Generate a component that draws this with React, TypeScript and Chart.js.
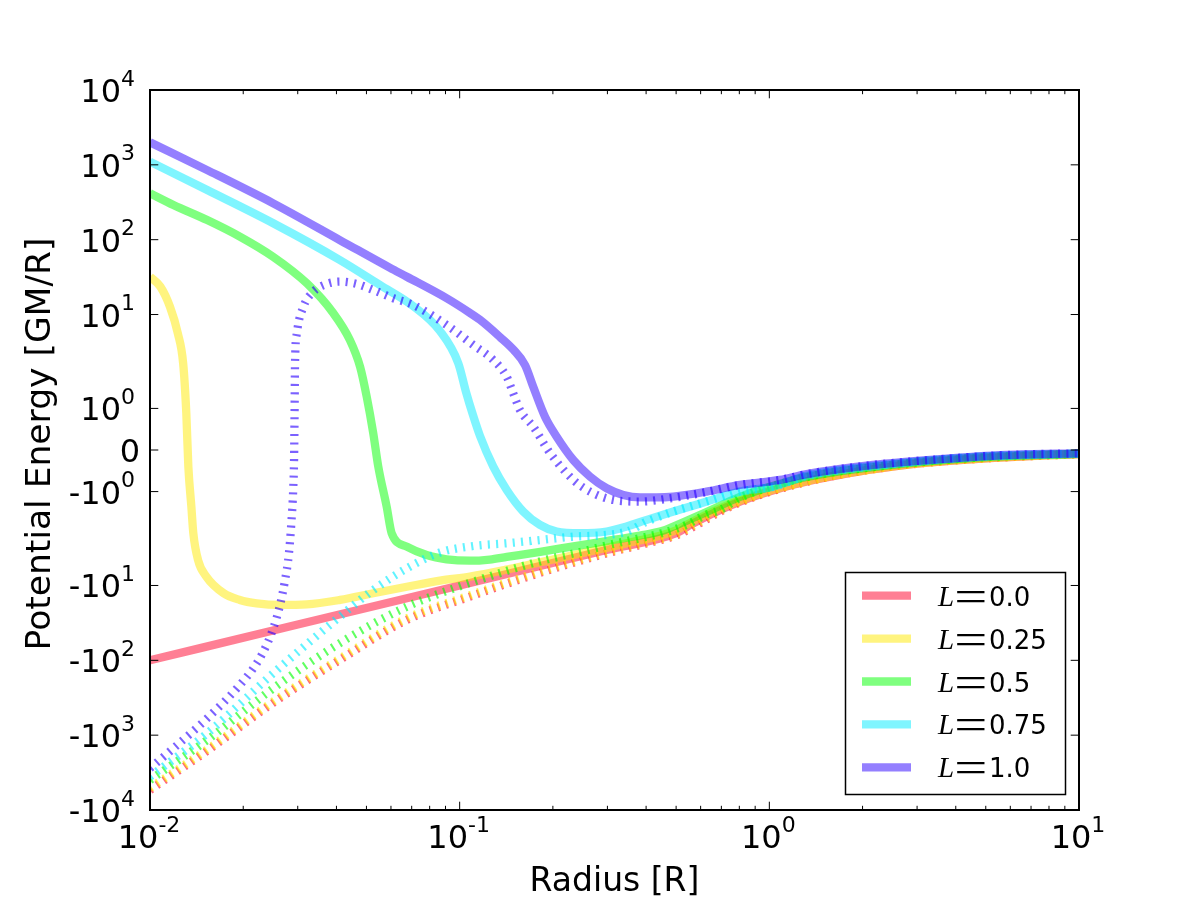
import React, { useEffect, useRef } from 'react';
import { Chart, Scale, registerables } from 'chart.js';

Chart.register(...registerables);

// ---- symmetric log transform (base 10, linthresh 2, linscale 1) ----
const LINTHRESH = 2;
const LINSCALE_ADJ = 1 / (1 - 1 / 10);
function symlog(v: number): number {
  const a = Math.abs(v);
  if (a <= LINTHRESH) return v * LINSCALE_ADJ;
  return Math.sign(v) * LINTHRESH * (LINSCALE_ADJ + Math.log10(a / LINTHRESH));
}
function symexp(t: number): number {
  const a = Math.abs(t);
  if (a <= LINTHRESH * LINSCALE_ADJ) return t / LINSCALE_ADJ;
  return Math.sign(t) * LINTHRESH * Math.pow(10, a / LINTHRESH - LINSCALE_ADJ);
}

// ---- axis ticks ----
const X_MAJOR = [0.01, 0.1, 1, 10];
const X_MAJOR_EXP = ['-2', '-1', '0', '1'];
const Y_TICKS = [1e4, 1e3, 100, 10, 1, 0, -1, -10, -100, -1e3, -1e4];

// ---- radius grids and potential values ----
// L = 0.0
const R_L00 = [0.01, 0.03, 0.1, 0.3, 0.5, 0.55, 0.6, 0.7, 0.8, 0.9, 1, 1.2, 1.5, 2, 2.5, 3, 4, 5, 6, 8, 10];
const E_L00 = [-100, -33.3, -10, -3.33, -2, -1.82, -1.67, -1.43, -1.25, -1.11, -1, -0.83, -0.67, -0.5, -0.4, -0.33, -0.25, -0.2, -0.17, -0.125, -0.1];
const R_L00_DOT = [0.01, 0.0153, 0.025, 0.041, 0.0675, 0.108, 0.142, 0.2, 0.3, 0.4, 0.5, 0.6, 0.7, 0.8, 1, 1.5, 2, 3, 5, 10];
const E_L00_DOT = [-5400, -1620, -370, -99, -28.9, -14.1, -9.5, -6.0, -3.7, -2.75, -2.15, -1.75, -1.47, -1.27, -1.01, -0.67, -0.5, -0.33, -0.2, -0.1];

// L = 0.25
const R_L25 = [0.01, 0.0108, 0.0116, 0.0123, 0.0128, 0.0131, 0.0133, 0.0136, 0.0138, 0.0143, 0.0152, 0.0173, 0.0195, 0.0221, 0.0263, 0.0321, 0.0411, 0.0526, 0.0675, 0.0864, 0.108, 0.14, 0.18, 0.23, 0.3, 0.38, 0.45, 0.5, 0.6, 0.7, 0.8, 1, 1.5, 2, 3, 5, 10];
const E_L25 = [32, 23.6, 12.7, 5.6, 2.2, 0.88, -0.4, -1.36, -2.0, -4.6, -7.6, -12.7, -15.6, -17.3, -18.2, -17.9, -15.6, -12.7, -10.4, -8.6, -7.6, -6.2, -4.95, -3.98, -3.12, -2.5, -2.13, -1.93, -1.62, -1.39, -1.22, -0.98, -0.66, -0.5, -0.33, -0.2, -0.1];
const R_L25_DOT = [0.01, 0.0153, 0.025, 0.041, 0.0675, 0.108, 0.142, 0.2, 0.3, 0.4, 0.5, 0.6, 0.7, 0.8, 1, 1.5, 2, 3, 5, 10];
const E_L25_DOT = [-5100, -1550, -355, -95, -27.5, -13.5, -9.1, -5.8, -3.6, -2.68, -2.1, -1.72, -1.45, -1.26, -1.0, -0.67, -0.5, -0.33, -0.2, -0.1];

// L = 0.5
const R_L50 = [0.01, 0.0119, 0.0153, 0.0195, 0.025, 0.0321, 0.0391, 0.0442, 0.0477, 0.0501, 0.0526, 0.0546, 0.0581, 0.0603, 0.0675, 0.0782, 0.0908, 0.108, 0.125, 0.142, 0.182, 0.233, 0.298, 0.382, 0.45, 0.49, 0.627, 0.804, 1.03, 1.32, 2.16, 4.56, 10];
const E_L50 = [417, 291, 183, 110, 59, 26.1, 10.4, 4.57, 2.0, 1.28, 0.4, -0.4, -1.36, -2.0, -3.03, -3.92, -4.47, -4.67, -4.5, -4.15, -3.55, -3.0, -2.55, -2.15, -1.95, -1.84, -1.49, -1.13, -0.86, -0.65, -0.41, -0.19, -0.09];
const R_L50_DOT = [0.01, 0.0153, 0.025, 0.041, 0.0675, 0.0954, 0.122, 0.16, 0.2, 0.25, 0.3, 0.38, 0.45, 0.54, 0.627, 0.69, 0.804, 1.03, 1.32, 2.16, 4.56, 10];
const E_L50_DOT = [-3980, -1161, -237, -59, -19.2, -11, -7.8, -5.5, -4.3, -3.5, -2.9, -2.35, -2.0, -1.8, -1.55, -1.45, -1.15, -0.87, -0.65, -0.41, -0.19, -0.09];

// L = 0.75
const R_L75 = [0.01, 0.0153, 0.025, 0.041, 0.0553, 0.0707, 0.0864, 0.099, 0.1048, 0.1104, 0.1163, 0.1284, 0.1419, 0.1605, 0.1817, 0.2057, 0.2446, 0.2983, 0.346, 0.402, 0.49, 0.627, 0.804, 1.03, 1.32, 2.16, 4.56, 10];
const E_L75 = [1102, 461, 166, 53.6, 24.8, 13.0, 6.0, 2.23, 1.4, 0.84, 0.34, -0.4, -0.96, -1.48, -1.8, -1.96, -2.0, -1.96, -1.84, -1.68, -1.48, -1.24, -1.0, -0.88, -0.62, -0.39, -0.17, -0.085];
const R_L75_DOT = [0.01, 0.0153, 0.025, 0.041, 0.0526, 0.0675, 0.0864, 0.1106, 0.142, 0.182, 0.233, 0.298, 0.35, 0.402, 0.45, 0.49, 0.627, 0.804, 1.03, 1.32, 2.16, 4.56, 10];
const E_L75_DOT = [-3590, -945, -149, -26.1, -11.5, -5.9, -3.63, -2.97, -2.73, -2.47, -2.23, -2.11, -1.95, -1.72, -1.58, -1.48, -1.24, -1.0, -0.88, -0.62, -0.39, -0.17, -0.085];

// L = 1.0
const R_L100 = [0.01, 0.0153, 0.025, 0.041, 0.0596, 0.0675, 0.0908, 0.108, 0.1163, 0.135, 0.149, 0.1626, 0.1728, 0.1886, 0.2057, 0.2328, 0.2636, 0.2983, 0.3376, 0.3823, 0.4328, 0.49, 0.627, 0.804, 1.082, 1.32, 2.16, 3.56, 5.83, 10];
const E_L100 = [2000, 850, 306, 99, 42, 32, 16.5, 10.5, 8.5, 5.0, 3.4, 2.11, 1.52, 0.8, 0.32, -0.24, -0.64, -0.92, -1.08, -1.14, -1.14, -1.12, -1.0, -0.84, -0.72, -0.58, -0.36, -0.22, -0.12, -0.08];
const R_L100_DOT = [0.01, 0.0119, 0.0153, 0.0195, 0.0221, 0.0238, 0.025, 0.0263, 0.0273, 0.0281, 0.0286, 0.029, 0.0292, 0.0293, 0.0294, 0.0298, 0.0313, 0.0337, 0.0372, 0.0411, 0.0465, 0.0526, 0.0611, 0.0709, 0.0908, 0.1106, 0.1284, 0.1419, 0.149, 0.1566, 0.1728, 0.1957, 0.2328, 0.2636, 0.3128, 0.3823, 0.49, 0.627, 0.804, 1.082, 1.32, 2.16, 3.56, 5.83, 10];
const E_L100_DOT = [-2772, -1500, -596, -214, -110, -62.4, -37.4, -18.2, -8.45, -3.72, -1.76, -0.96, -0.16, 0.88, 2.23, 5.6, 12.7, 20.2, 25.6, 27.5, 25.6, 21.3, 16.5, 13.4, 7.25, 3.92, 2.47, 1.76, 1.36, 0.96, 0.56, -0.07, -0.72, -1.0, -1.2, -1.24, -1.15, -1.01, -0.84, -0.72, -0.58, -0.36, -0.22, -0.12, -0.08];

const L_LABELS = ['0.0', '0.25', '0.5', '0.75', '1.0'];
const L_COLORS = [
  [255, 0, 41],
  [255, 234, 0],
  [0, 255, 0],
  [0, 236, 255],
  [42, 0, 255],
];
const SOLID_R = [R_L00, R_L25, R_L50, R_L75, R_L100];
const SOLID_E = [E_L00, E_L25, E_L50, E_L75, E_L100];
const DOT_R = [R_L00_DOT, R_L25_DOT, R_L50_DOT, R_L75_DOT, R_L100_DOT];
const DOT_E = [E_L00_DOT, E_L25_DOT, E_L50_DOT, E_L75_DOT, E_L100_DOT];

const FONT = '"DejaVu Sans", sans-serif';
const LINE_W = 8.3;

// ---- custom symlog value axis ----
class SymlogScale extends Scale {
  static id = 'symlog';
  static defaults = {};
  determineDataLimits() {
    const o: any = this.options;
    (this as any).min = o.min;
    (this as any).max = o.max;
  }
  buildTicks() {
    return Y_TICKS.map((value) => ({ value }));
  }
  getLabelForValue(v: number) {
    return String(v);
  }
  configure() {
    super.configure();
    (this as any)._t0 = symlog((this as any).min);
    (this as any)._t1 = symlog((this as any).max);
  }
  getPixelForValue(v: number) {
    const t0 = (this as any)._t0, t1 = (this as any)._t1;
    return this.getPixelForDecimal((symlog(v) - t0) / (t1 - t0));
  }
  getPixelForTick(i: number) {
    return this.getPixelForValue((this as any).ticks[i].value);
  }
  getValueForPixel(p: number) {
    const t0 = (this as any)._t0, t1 = (this as any)._t1;
    return symexp(t0 + this.getDecimalForPixel(p) * (t1 - t0));
  }
}
Chart.register(SymlogScale as any);

function rgba(c: number[], a: number) {
  return `rgba(${c[0]},${c[1]},${c[2]},${a})`;
}

function drawPower(ctx: CanvasRenderingContext2D, exp: string, neg: boolean, x: number, baseline: number, align: 'center' | 'right') {
  const main = (neg ? '-' : '') + '10';
  ctx.font = `32px ${FONT}`;
  const wm = ctx.measureText(main).width;
  ctx.font = `22px ${FONT}`;
  const we = ctx.measureText(exp).width;
  const total = wm + we;
  const x0 = align === 'center' ? x - total / 2 : x - total;
  ctx.textAlign = 'left';
  ctx.textBaseline = 'alphabetic';
  ctx.font = `32px ${FONT}`;
  ctx.fillText(main, x0, baseline);
  ctx.font = `22px ${FONT}`;
  ctx.fillText(exp, x0 + wm, baseline - 16.5);
}

const axesPlugin = {
  id: 'framedAxes',
  afterDraw(chart: any) {
    const { ctx, chartArea: a, scales } = chart;
    const xs = scales.x, ys = scales.y;
    ctx.save();
    ctx.strokeStyle = '#000';
    ctx.fillStyle = '#000';

    // tick marks (inward, on all four sides)
    ctx.lineWidth = 1;
    ctx.beginPath();
    for (const v of X_MAJOR) {
      const px = xs.getPixelForValue(v);
      ctx.moveTo(px, a.bottom); ctx.lineTo(px, a.bottom - 8.3);
      ctx.moveTo(px, a.top); ctx.lineTo(px, a.top + 8.3);
    }
    for (let e = -2; e < 1; e++) {
      for (let k = 2; k <= 9; k++) {
        const px = xs.getPixelForValue(k * Math.pow(10, e));
        ctx.moveTo(px, a.bottom); ctx.lineTo(px, a.bottom - 4.2);
        ctx.moveTo(px, a.top); ctx.lineTo(px, a.top + 4.2);
      }
    }
    for (const v of Y_TICKS) {
      const py = ys.getPixelForValue(v);
      ctx.moveTo(a.left, py); ctx.lineTo(a.left + 8.3, py);
      ctx.moveTo(a.right, py); ctx.lineTo(a.right - 8.3, py);
    }
    ctx.stroke();

    // frame
    ctx.lineWidth = 2;
    ctx.strokeRect(a.left, a.top, a.right - a.left, a.bottom - a.top);

    // x tick labels
    X_MAJOR.forEach((v, i) => {
      drawPower(ctx, X_MAJOR_EXP[i], false, xs.getPixelForValue(v) - 1, 848, 'center');
    });
    // y tick labels
    for (const v of Y_TICKS) {
      const py = ys.getPixelForValue(v);
      if (v === 0) {
        ctx.font = `32px ${FONT}`;
        ctx.textAlign = 'right';
        ctx.textBaseline = 'alphabetic';
        ctx.fillText('0', 140, py + 11.5);
      } else {
        const exp = String(Math.round(Math.log10(Math.abs(v))));
        drawPower(ctx, exp, v < 0, 135, py + 12, 'right');
      }
    }

    // axis titles
    ctx.textAlign = 'center';
    ctx.textBaseline = 'alphabetic';
    ctx.font = `33px ${FONT}`;
    ctx.fillText('Radius [R]', (a.left + a.right) / 2, 891);
    ctx.save();
    ctx.font = `34.5px ${FONT}`;
    ctx.translate(50, (a.top + a.bottom) / 2 - 6);
    ctx.rotate(-Math.PI / 2);
    ctx.fillText('Potential Energy [GM/R]', 0, 0);
    ctx.restore();

    ctx.restore();
  },
};

const legendPlugin = {
  id: 'innerLegend',
  afterDraw(chart: any) {
    const { ctx } = chart;
    const box = { x: 845.5, y: 572.5, w: 220, h: 222 };
    ctx.save();
    ctx.fillStyle = '#fff';
    ctx.fillRect(box.x, box.y, box.w, box.h);
    ctx.strokeStyle = '#000';
    ctx.lineWidth = 1.5;
    ctx.strokeRect(box.x, box.y, box.w, box.h);

    const entries = chart.data.datasets.filter((d: any) => d.label);
    entries.forEach((d: any, i: number) => {
      const cy = 595.7 + i * 42.9;
      ctx.strokeStyle = d.borderColor;
      ctx.lineWidth = LINE_W;
      ctx.lineCap = 'butt';
      ctx.setLineDash([]);
      ctx.beginPath();
      ctx.moveTo(862, cy);
      ctx.lineTo(911, cy);
      ctx.stroke();

      const base = cy + 10;
      const [sym, val] = d.label.split('=');
      ctx.fillStyle = '#000';
      ctx.textAlign = 'left';
      ctx.textBaseline = 'alphabetic';
      ctx.font = 'italic 29px "Liberation Serif", "DejaVu Serif", serif';
      ctx.fillText(sym, 938, base);

      // wide, thin equals sign
      ctx.font = '44px "Liberation Serif", "DejaVu Serif", serif';
      const m = ctx.measureText('=');
      const ink = m.actualBoundingBoxRight + m.actualBoundingBoxLeft;
      const sx = 28 / ink;
      const mid = (m.actualBoundingBoxAscent - m.actualBoundingBoxDescent) / 2;
      ctx.save();
      ctx.translate(957, cy + 1);
      ctx.scale(sx, 1);
      ctx.fillText('=', m.actualBoundingBoxLeft, mid);
      ctx.restore();

      ctx.font = `26px ${FONT}`;
      ctx.fillText(val, 989, base);
    });
    ctx.restore();
  },
};

function buildDatasets() {
  const out: any[] = [];
  L_LABELS.forEach((lab, i) => {
    out.push({
      label: `L=${lab}`,
      data: SOLID_R[i].map((x, j) => ({ x, y: SOLID_E[i][j] })),
      borderColor: rgba(L_COLORS[i], 0.5),
      borderWidth: LINE_W,
      borderCapStyle: 'butt',
      borderJoinStyle: 'round',
      cubicInterpolationMode: 'monotone',
      pointRadius: 0,
      fill: false,
      clip: 0,
      order: -(2 * i),
    });
    out.push({
      label: '',
      data: DOT_R[i].map((x, j) => ({ x, y: DOT_E[i][j] })),
      borderColor: rgba(L_COLORS[i], 0.62),
      borderWidth: LINE_W,
      borderDash: [2.08, 6.25],
      borderCapStyle: 'butt',
      borderJoinStyle: 'round',
      cubicInterpolationMode: 'monotone',
      pointRadius: 0,
      fill: false,
      clip: 0,
      order: -(2 * i + 1),
    });
  });
  return out;
}

export default function App() {
  const ref = useRef<HTMLCanvasElement>(null);
  useEffect(() => {
    if (!ref.current) return;
    const chart = new Chart(ref.current, {
      type: 'line',
      data: { datasets: buildDatasets() },
      options: {
        animation: false,
        responsive: false,
        devicePixelRatio: 1,
        layout: { padding: { left: 150, right: 121, top: 90, bottom: 90 } },
        scales: {
          x: { type: 'logarithmic', min: 0.01, max: 10, display: false },
          y: { type: 'symlog' as any, min: -1e4, max: 1e4, display: false } as any,
        },
        plugins: {
          legend: { display: false },
          tooltip: { enabled: false },
        },
        elements: { point: { radius: 0 } },
      },
      plugins: [axesPlugin, legendPlugin],
    } as any);
    return () => chart.destroy();
  }, []);
  return (
    <div style={{ position: 'fixed', left: 0, top: 0, width: 1200, height: 900, background: '#fff' }}>
      <canvas ref={ref} width={1200} height={900} style={{ display: 'block', width: 1200, height: 900 }} />
    </div>
  );
}
